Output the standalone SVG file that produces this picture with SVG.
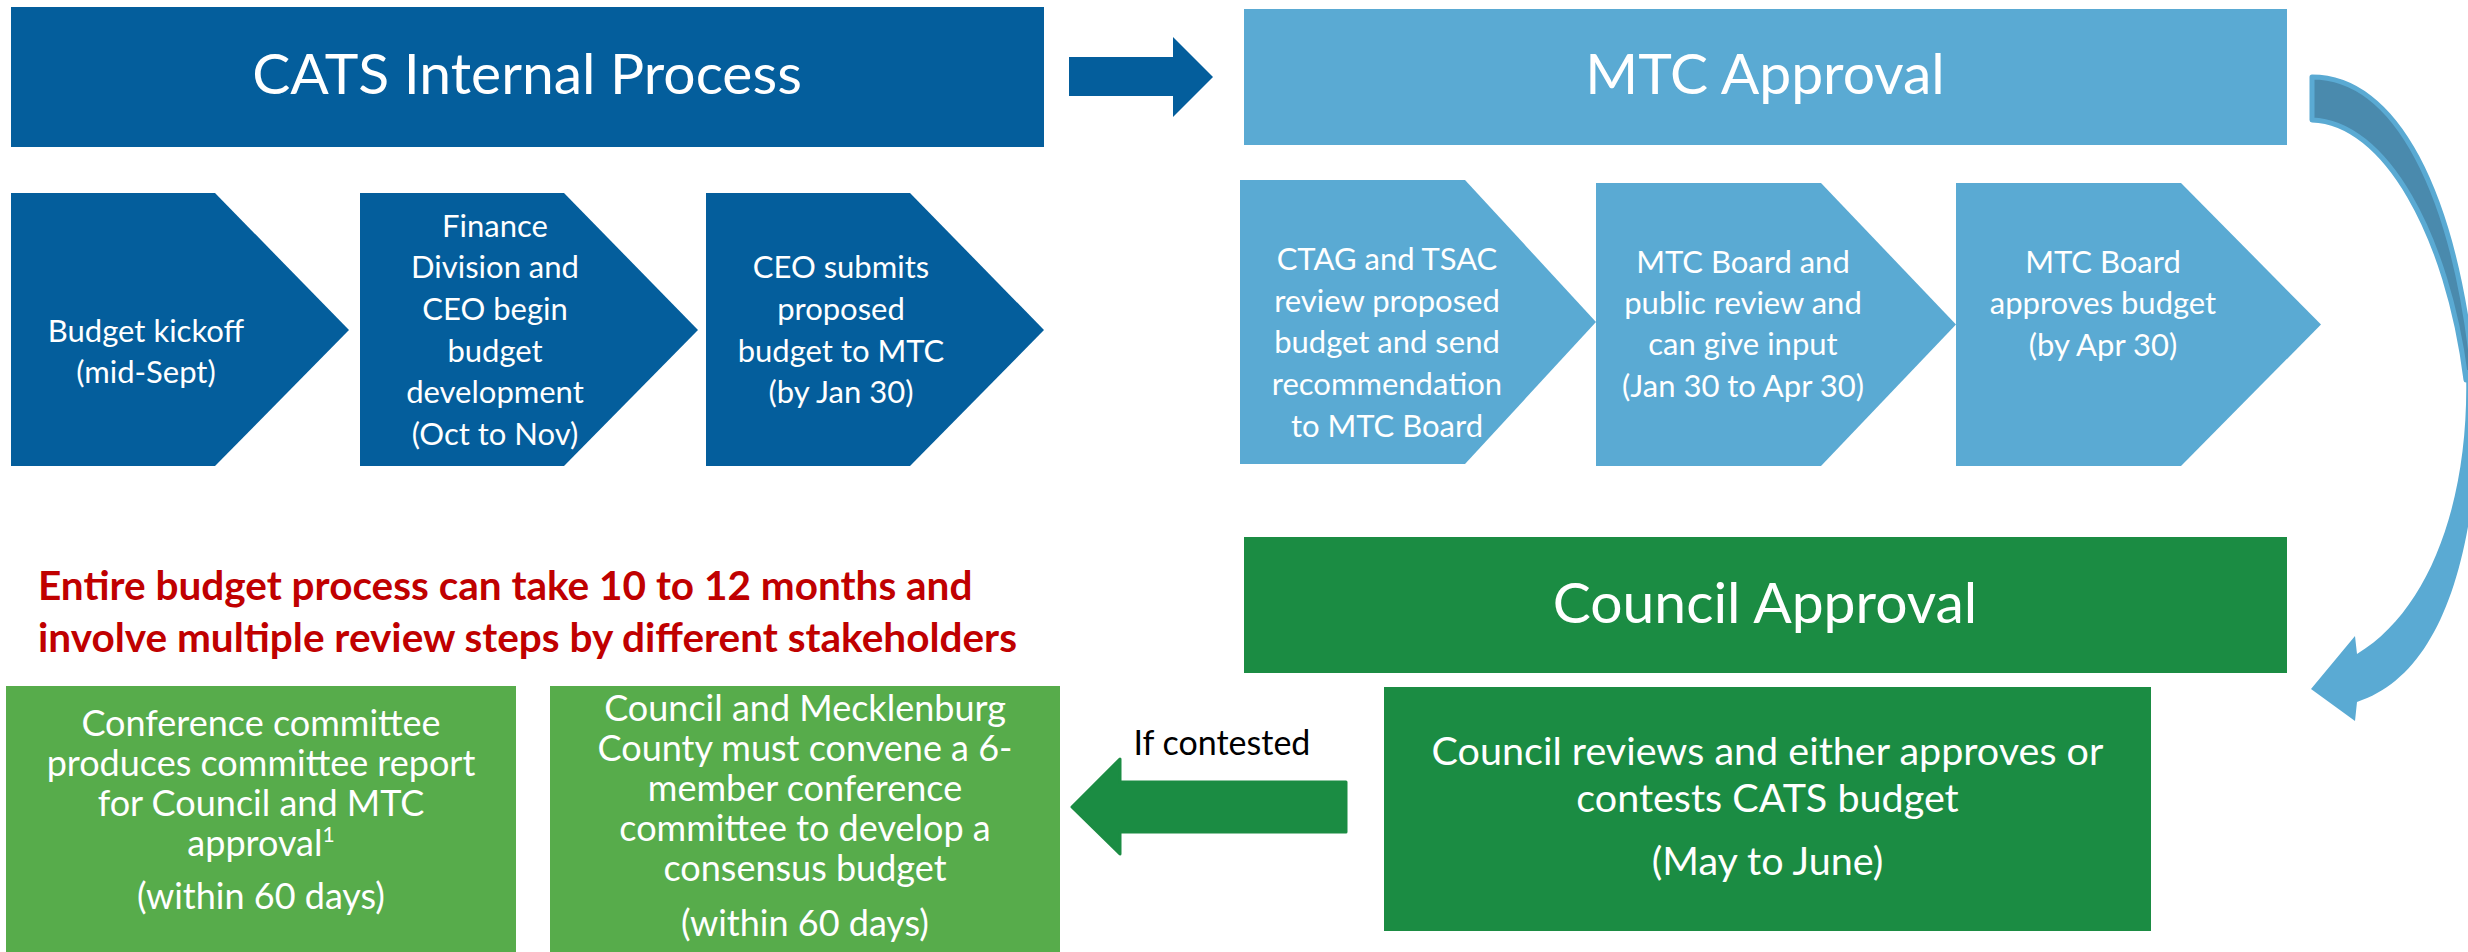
<svg xmlns="http://www.w3.org/2000/svg" width="2468" height="952" viewBox="0 0 2468 952">
<style>
.t{font-family:Lato,"Liberation Sans",sans-serif;fill:#fff;text-anchor:middle}
.hd{font-size:57px}
.cv{font-size:31px}
.lb{font-size:36px}
.cr{font-size:39.5px}
.dblue{fill:#045E9C}
.lblue{fill:#5AAAD3}
.dgreen{fill:#1B8C43}
.lgreen{fill:#57AC4B}
.red{font-family:Lato,"Liberation Sans",sans-serif;font-weight:bold;font-size:40.5px;fill:#C00000}
.blk{font-family:Lato,"Liberation Sans",sans-serif;font-size:34px;fill:#000;text-anchor:middle}
</style>
<rect width="2468" height="952" fill="#fff"/>

<g id="connectors">
  <polygon class="dblue" points="1069,57 1173,57 1173,37 1213,77 1173,117 1173,96 1069,96"/>
  <polygon class="dgreen" stroke="#1B8C43" stroke-width="3" stroke-linejoin="round" points="1072,807 1120,759 1120,782 1346,782 1346,832 1120,832 1120,854"/>
  <g id="curved-arrow">
    <path fill="#4A8AAD" stroke="#5AAAD3" stroke-width="5" stroke-linejoin="round" d="M2312,77 C2395,77 2455,190 2474,380 L2466,380 C2448,235 2385,122 2312,120 Z"/>
    <path fill="#5AAAD3" d="M2466,370 C2470,500 2430,610 2357,654 L2355,636 L2311,689 L2355,721 L2357,702 C2440,675 2480,560 2480,370 Z"/>
  </g>
  <text class="blk" x="1222" y="755">If contested</text>
</g>

<g id="cats-header">
  <rect class="dblue" x="11" y="7" width="1033" height="140"/>
  <text class="t hd" x="527" y="94">CATS Internal Process</text>
</g>
<g id="mtc-header">
  <rect class="lblue" x="1244" y="9" width="1043" height="136"/>
  <text class="t hd" x="1765" y="94">MTC Approval</text>
</g>
<g id="council-header">
  <rect class="dgreen" x="1244" y="537" width="1043" height="136"/>
  <text class="t hd" x="1765" y="623">Council Approval</text>
</g>

<g id="step-kickoff">
  <polygon class="dblue" points="11,193 215,193 349,330 215,466 11,466"/>
  <text class="t cv" x="146"><tspan x="146" y="342">Budget kickoff</tspan><tspan x="146" y="383">(mid-Sept)</tspan></text>
</g>
<g id="step-finance">
  <polygon class="dblue" points="360,193 564,193 698,330 564,466 360,466"/>
  <text class="t cv"><tspan x="495" y="237">Finance</tspan><tspan x="495" y="278">Division and</tspan><tspan x="495" y="320">CEO begin</tspan><tspan x="495" y="362">budget</tspan><tspan x="495" y="403">development</tspan><tspan x="495" y="445">(Oct to Nov)</tspan></text>
</g>
<g id="step-ceo">
  <polygon class="dblue" points="706,193 910,193 1044,330 910,466 706,466"/>
  <text class="t cv"><tspan x="841" y="278">CEO submits</tspan><tspan x="841" y="320">proposed</tspan><tspan x="841" y="362">budget to MTC</tspan><tspan x="841" y="403">(by Jan 30)</tspan></text>
</g>

<g id="step-ctag">
  <polygon class="lblue" points="1240,180 1465,180 1596,322 1465,464 1240,464"/>
  <text class="t cv"><tspan x="1387" y="270">CTAG and TSAC</tspan><tspan x="1387" y="312">review proposed</tspan><tspan x="1387" y="353">budget and send</tspan><tspan x="1387" y="395">recommendation</tspan><tspan x="1387" y="437">to MTC Board</tspan></text>
</g>
<g id="step-public">
  <polygon class="lblue" points="1596,183 1821,183 1956,324.5 1821,466 1596,466"/>
  <text class="t cv"><tspan x="1743" y="273">MTC Board and</tspan><tspan x="1743" y="314">public review and</tspan><tspan x="1743" y="355">can give input</tspan><tspan x="1743" y="397">(Jan 30 to Apr 30)</tspan></text>
</g>
<g id="step-approves">
  <polygon class="lblue" points="1956,183 2181,183 2321,324.5 2181,466 1956,466"/>
  <text class="t cv"><tspan x="2103" y="273">MTC Board</tspan><tspan x="2103" y="314">approves budget</tspan><tspan x="2103" y="356">(by Apr 30)</tspan></text>
</g>

<g id="note">
  <text class="red"><tspan x="38" y="600">Entire budget process can take 10 to 12 months and</tspan><tspan x="38" y="652">involve multiple review steps by different stakeholders</tspan></text>
</g>

<g id="council-review">
  <rect class="dgreen" x="1384" y="687" width="767" height="244"/>
  <text class="t cr"><tspan x="1767.5" y="765">Council reviews and either approves or</tspan><tspan x="1767.5" y="812">contests CATS budget</tspan><tspan x="1767.5" y="875">(May to June)</tspan></text>
</g>
<g id="conference-convene">
  <rect class="lgreen" x="550" y="686" width="510" height="266"/>
  <text class="t lb"><tspan x="805" y="721">Council and Mecklenburg</tspan><tspan x="805" y="761">County must convene a 6-</tspan><tspan x="805" y="801">member conference</tspan><tspan x="805" y="841">committee to develop a</tspan><tspan x="805" y="881">consensus budget</tspan><tspan x="805" y="936">(within 60 days)</tspan></text>
</g>
<g id="conference-report">
  <rect class="lgreen" x="6" y="686" width="510" height="266"/>
  <text class="t lb"><tspan x="261" y="736">Conference committee</tspan><tspan x="261" y="776">produces committee report</tspan><tspan x="261" y="816">for Council and MTC</tspan><tspan x="261" y="856">approval<tspan font-size="21" dy="-14">1</tspan></tspan><tspan x="261" y="909">(within 60 days)</tspan></text>
</g>
</svg>
